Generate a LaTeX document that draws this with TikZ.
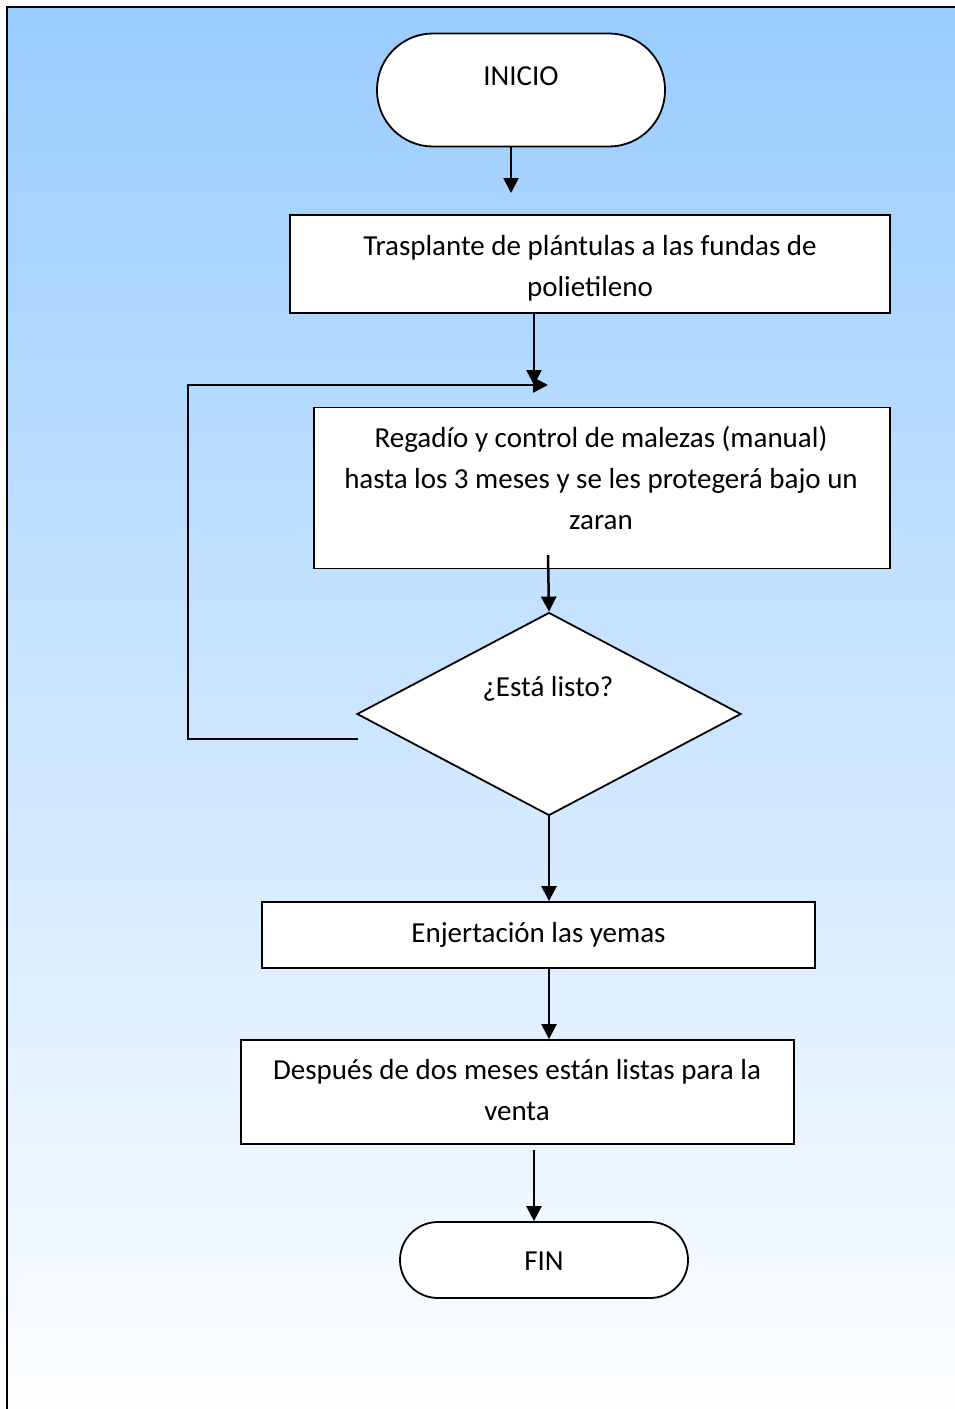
\documentclass[tikz,border=0pt]{standalone}
\usepackage{fontspec}
\setmainfont{Carlito}
\usetikzlibrary{shapes.geometric,arrows.meta}
\definecolor{topblue}{RGB}{153,204,255}
\definecolor{botwhite}{RGB}{253,254,255}
\begin{document}
\begin{tikzpicture}[x=1pt,y=-1pt,
  every node/.style={font=\fontsize{29}{41}\selectfont},
  box/.style={draw, line width=1.8pt, fill=white, align=center, inner sep=0pt},
  term/.style={draw, line width=1.8pt, fill=white, inner sep=0pt},
  dia/.style={draw, diamond, line width=1.8pt, fill=white, inner sep=0pt},
  lbl/.style={align=center},
  arr/.style={line width=2.5pt, -{Triangle[length=15pt,width=15pt]}}]
\useasboundingbox (0,0) rectangle (955,1409);
\fill[white] (0,0) rectangle (955,1409);
\shade[top color=topblue, bottom color=botwhite] (7,7) rectangle (955,1409);
\draw[line width=2.5pt] (955,7) -- (7,7) -- (7,1409);
% nodes
\node[term, rounded corners=56pt, minimum width=288pt, minimum height=113pt] (ini) at (521,90) {};
\node[lbl] (tini) at (521,76) {INICIO};
\node[box, minimum width=600pt, minimum height=98pt] (b1) at (590,264) {};
\node[lbl] (tb1) at (590,268) {Trasplante de plántulas a las fundas de\\polietileno};
\node[box, minimum width=576pt, minimum height=161pt] (b2) at (602,488) {};
\node[lbl] (tb2) at (601,478) {Regadío y control de malezas (manual)\\hasta los 3 meses y se les protegerá bajo un\\zaran};
\node[dia, minimum width=384pt, minimum height=203pt] (d) at (549,714) {};
\node[lbl] (td) at (548,689) {¿Está listo?};
\node[box, minimum width=553pt, minimum height=66pt] (b3) at (538.5,935) {Enjertación las yemas};
\node[box, minimum width=553pt, minimum height=104pt] (b4) at (517.5,1092) {};
\node[lbl] (tb4) at (517,1090) {Después de dos meses están listas para la\\venta};
\node[term, rounded corners=38pt, minimum width=288pt, minimum height=76pt] (fin) at (544,1260) {};
\node[lbl] (tfin) at (544,1261) {FIN};
% connectors
\coordinate (a1e) at (511,193);
\draw[arr] (a1e |- ini.south) -- (a1e);
\coordinate (m1) at (534,385);
\draw[arr] (m1 |- b1.south) -- (m1);
\coordinate (ls) at (358,739);
\coordinate (lc) at (188,385);
\coordinate (le) at (548,385);
\draw[arr] (ls) -| (lc) -- (le);
\coordinate (s2) at (548,555);
\draw[arr] (s2) -- (d.north);
\draw[arr] (d.south) -- (d.south |- b3.north);
\draw[arr] (b3.south -| d.south) -- (d.south |- b4.north);
\coordinate (s4) at (534,1150);
\draw[arr] (s4) -- (s4 |- fin.north);
\end{tikzpicture}
\end{document}
